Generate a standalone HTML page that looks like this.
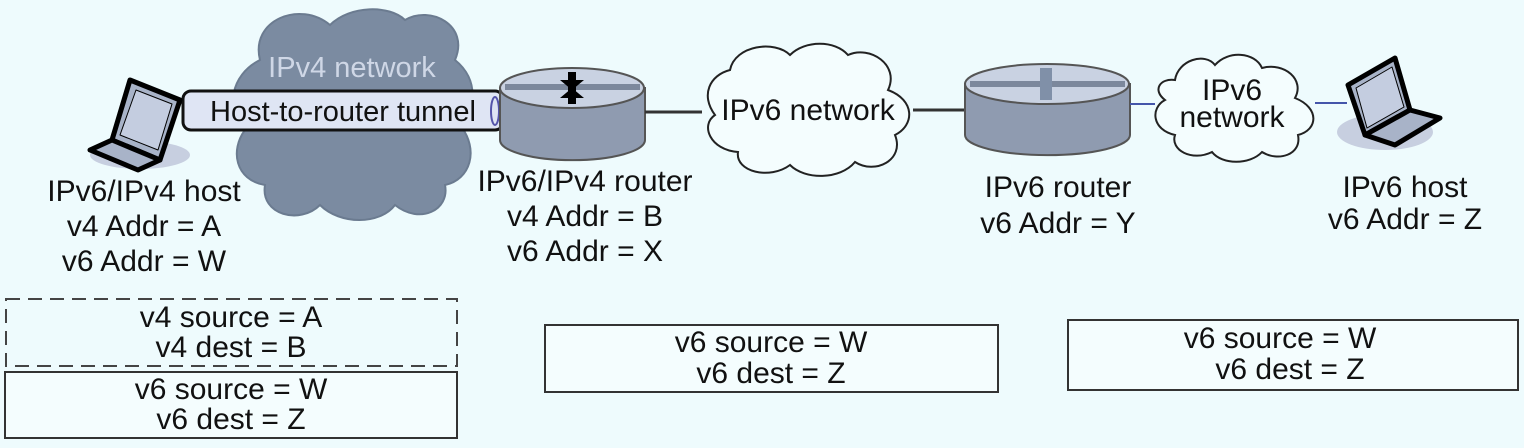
<!DOCTYPE html>
<html><head><style>
html,body{margin:0;padding:0;background:#eefbfd;}
svg{display:block;}
text{font-family:"Liberation Sans",Arial,sans-serif;font-size:30px;fill:#111;text-anchor:middle;}
</style></head><body>
<svg width="1524" height="448" viewBox="0 0 1524 448">
<rect width="1524" height="448" fill="#eefbfd"/>
<path d="M260,60 C250,20 300,0 330,25 C350,5 390,5 405,20 C430,5 470,25 455,60 C480,80 475,110 460,125 C480,150 470,180 445,185 C450,210 420,225 395,205 C380,225 340,225 320,205 C300,225 260,215 265,185 C235,180 230,150 245,130 C225,110 230,75 260,60 Z" fill="#7b8ba1" stroke="#6b7b90" stroke-width="2"/>
<text x="352" y="77" style="fill:#cfd7e6;font-size:29px">IPv4 network</text>
<rect x="183" y="91" width="320" height="39" rx="8" fill="#dfe5f4" stroke="#111" stroke-width="3"/>
<ellipse cx="495" cy="111" rx="4" ry="14" fill="none" stroke="#5555aa" stroke-width="2"/>
<text x="343" y="121" style="font-size:29px">Host-to-router tunnel</text>
<g stroke="#000" stroke-linejoin="round">
<ellipse cx="140" cy="155" rx="50" ry="14" fill="#c7cfe0" stroke="none"/>
<polygon points="130,80 180,100 160,160 112,140" fill="#a8b3c8" stroke-width="5"/>
<polygon points="112,140 160,160 138,170 90,150" fill="#a8b3c8" stroke-width="5"/>
<polygon points="136,90 172,104 158,150 120,135" fill="#c4cde0" stroke-width="1"/>
</g>
<g>
<path d="M500,88 L500,140 A72,20 0 0 0 645,140 L645,88 Z" fill="#8f9bb0" stroke="#555" stroke-width="2"/>
<ellipse cx="572" cy="88" rx="72" ry="20" fill="#c9d2e2" stroke="#555" stroke-width="2"/>
<rect x="505" y="84" width="135" height="6" fill="#7c889c"/>
<rect x="568" y="72" width="8" height="32" fill="#000"/>
<polygon points="560,80 584,80 572,90" fill="#000"/>
<polygon points="560,98 584,98 572,88" fill="#000"/>
</g>
<line x1="645" y1="112" x2="702" y2="112" stroke="#333" stroke-width="3"/>
<path d="M730,70 C735,45 775,40 790,55 C805,40 835,40 848,55 C870,45 900,65 888,90 C915,100 915,125 895,135 C905,160 875,175 855,162 C840,180 805,180 790,165 C770,180 735,172 738,152 C710,150 700,125 715,115 C700,95 710,75 730,70 Z" fill="#f4fdfe" stroke="#222" stroke-width="2"/>
<text x="808" y="120">IPv6 network</text>
<line x1="913" y1="110" x2="968" y2="110" stroke="#333" stroke-width="3"/>
<g>
<path d="M965,84 L965,135 A82,20 0 0 0 1130,135 L1130,84 Z" fill="#8f9bb0" stroke="#555" stroke-width="2"/>
<ellipse cx="1047" cy="84" rx="82" ry="20" fill="#c9d2e2" stroke="#555" stroke-width="2"/>
<rect x="970" y="81" width="155" height="6" fill="#7c889c"/>
<rect x="1040" y="68" width="12" height="32" fill="#8090a8"/>
</g>
<line x1="1130" y1="104" x2="1155" y2="104" stroke="#4455aa" stroke-width="2"/>
<path d="M1175,80 C1178,60 1205,52 1215,65 C1228,50 1255,52 1262,68 C1285,62 1305,80 1295,98 C1320,108 1318,130 1298,135 C1302,155 1278,162 1262,152 C1250,165 1222,165 1212,152 C1192,162 1170,150 1175,135 C1152,130 1150,108 1165,100 C1152,90 1160,78 1175,80 Z" fill="#f4fdfe" stroke="#222" stroke-width="2"/>
<text x="1232" y="100">IPv6</text>
<text x="1232" y="127">network</text>
<line x1="1315" y1="103" x2="1347" y2="103" stroke="#4455aa" stroke-width="2"/>
<g stroke="#000" stroke-linejoin="round">
<ellipse cx="1385" cy="132" rx="48" ry="18" fill="#c7cfe0" stroke="none"/>
<polygon points="1348,85 1395,58 1410,110 1365,135" fill="#a8b3c8" stroke-width="5"/>
<polygon points="1365,135 1410,110 1440,118 1395,145" fill="#a8b3c8" stroke-width="5"/>
<polygon points="1356,88 1392,67 1404,107 1367,128" fill="#c4cde0" stroke-width="1"/>
</g>
<text x="144" y="201">IPv6/IPv4 host</text>
<text x="144" y="236">v4 Addr = A</text>
<text x="144" y="271">v6 Addr = W</text>
<text x="585" y="191">IPv6/IPv4 router</text>
<text x="585" y="226">v4 Addr = B</text>
<text x="585" y="261">v6 Addr = X</text>
<text x="1058" y="197">IPv6 router</text>
<text x="1058" y="233">v6 Addr = Y</text>
<text x="1405" y="197">IPv6 host</text>
<text x="1405" y="229">v6 Addr = Z</text>
<rect x="6" y="299" width="451" height="67" fill="none" stroke="#444" stroke-width="2" stroke-dasharray="14,8"/>
<text x="231" y="327">v4 source = A</text>
<text x="231" y="357">v4 dest = B</text>
<rect x="5" y="372" width="452" height="66" fill="#f4fdfe" stroke="#333" stroke-width="2"/>
<text x="231" y="399">v6 source = W</text>
<text x="231" y="429">v6 dest = Z</text>
<rect x="545" y="325" width="453" height="67" fill="#f4fdfe" stroke="#333" stroke-width="2"/>
<text x="771" y="352">v6 source = W</text>
<text x="771" y="383">v6 dest = Z</text>
<rect x="1068" y="320" width="450" height="70" fill="#f4fdfe" stroke="#333" stroke-width="2"/>
<text x="1280" y="348">v6 source = W</text>
<text x="1290" y="379">v6 dest = Z</text>
</svg>
</body></html>
